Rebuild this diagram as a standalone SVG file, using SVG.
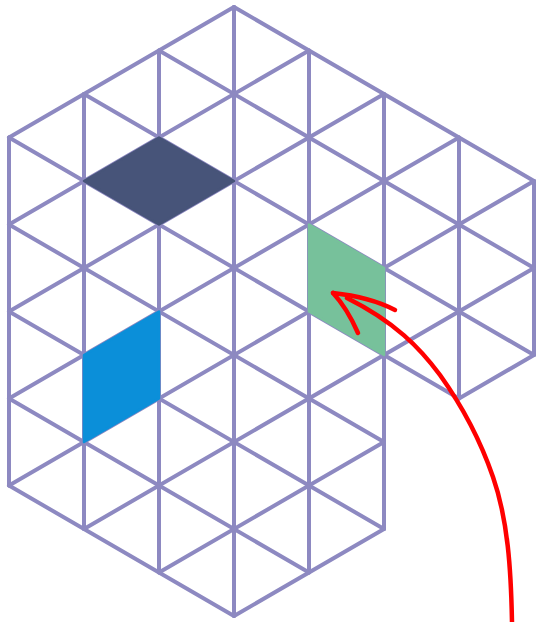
<svg xmlns="http://www.w3.org/2000/svg" width="540" height="622" viewBox="0 0 540 622">
  <style>
    .grid line { stroke: #8d89c1; stroke-width: 4; stroke-linecap: round; }
    .cell { stroke-width: 2.5; stroke-linejoin: round; }
    .pen { fill: none; stroke: #ff0000; stroke-width: 4.5; stroke-linecap: round; stroke-linejoin: round; }
  </style>
  <rect width="540" height="622" fill="#ffffff"/>
  <g id="grid" class="grid">
    <!-- verticals -->
    <line x1="9" y1="137.5" x2="9" y2="485.5"/>
    <line x1="84" y1="94" x2="84" y2="529"/>
    <line x1="159" y1="50.5" x2="159" y2="572.5"/>
    <line x1="234" y1="7" x2="234" y2="616"/>
    <line x1="309" y1="50.5" x2="309" y2="572.5"/>
    <line x1="384" y1="94" x2="384" y2="529"/>
    <line x1="459" y1="137.5" x2="459" y2="398.5"/>
    <line x1="534" y1="181" x2="534" y2="355"/>
    <!-- down-right diagonals -->
    <line x1="9" y1="485.5" x2="234" y2="616"/>
    <line x1="9" y1="398.5" x2="309" y2="572.5"/>
    <line x1="9" y1="311.5" x2="384" y2="529"/>
    <line x1="9" y1="224.5" x2="384" y2="442"/>
    <line x1="9" y1="137.5" x2="459" y2="398.5"/>
    <line x1="84" y1="94" x2="534" y2="355"/>
    <line x1="159" y1="50.5" x2="534" y2="268"/>
    <line x1="234" y1="7" x2="534" y2="181"/>
    <!-- up-right diagonals -->
    <line x1="9" y1="137.5" x2="234" y2="7"/>
    <line x1="9" y1="224.5" x2="309" y2="50.5"/>
    <line x1="9" y1="311.5" x2="384" y2="94"/>
    <line x1="9" y1="398.5" x2="459" y2="137.5"/>
    <line x1="9" y1="485.5" x2="534" y2="181"/>
    <line x1="84" y1="529" x2="534" y2="268"/>
    <line x1="159" y1="572.5" x2="384" y2="442"/>
    <line x1="459" y1="398.5" x2="534" y2="355"/>
    <line x1="234" y1="616" x2="384" y2="529"/>
  </g>
  <g id="shapes">
    <polygon id="dark-rhombus" class="cell" points="84,181 159,137.5 234,181 159,224.5" fill="#475479" stroke="#475479"/>
    <polygon id="blue-rhombus" class="cell" points="84,355 159,311.5 159,398.5 84,442" fill="#0b8fd9" stroke="#0b8fd9"/>
    <polygon id="green-rhombus" class="cell" points="309,224.5 384,268 384,355 309,311.5" fill="#77c19b" stroke="#77c19b"/>
  </g>
  <g id="arrow">
    <path class="pen" d="M512 622 C511 570 508 520 493 477 C482 445 465 410 440 375 C420 348 395 322 347 298"/>
    <path class="pen" d="M333 293 Q370 297 395 310"/>
    <path class="pen" d="M333 293 Q347 308 358 333"/>
  </g>
</svg>
